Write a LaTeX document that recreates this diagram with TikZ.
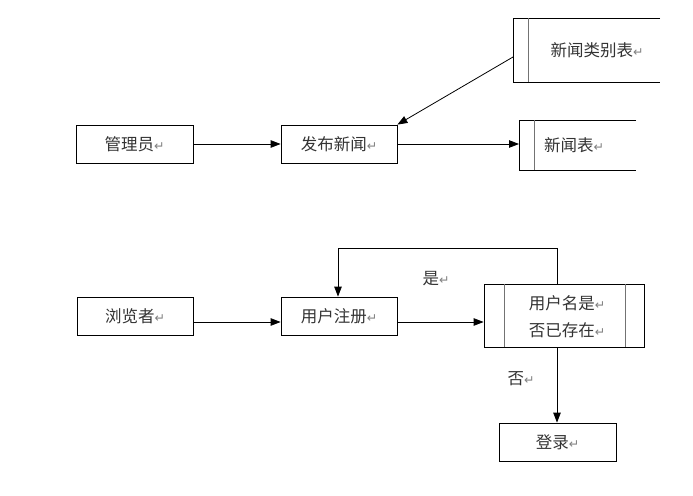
\documentclass[tikz,border=0pt]{standalone}
\usepackage{fontspec}
\setmainfont{Noto Sans CJK SC}
\newfontfamily\symfont{DejaVu Sans}
\usetikzlibrary{arrows.meta}
\newcommand{\retmark}{{\symfont\color{black!50}\fontsize{12.5}{12.5}\selectfont ↵}}
\begin{document}
\begin{tikzpicture}[x=1pt,y=-1pt,
  txt/.style={text=black!80,font=\fontsize{16.5}{27}\selectfont,inner sep=0pt,align=center},
  box/.style={txt,draw=black,line width=0.8pt},
  conn/.style={line width=0.8pt,-{Triangle[length=10pt,width=7.5pt]}},
  edge/.style={line width=0.8pt},
  inner/.style={line width=0.8pt,draw=black!55}]
\useasboundingbox (0,0) rectangle (693,495);
% top row
\node[box,minimum width=117pt,minimum height=38pt] (mgr) at (134.5,144) {管理员\retmark};
\node[box,minimum width=116pt,minimum height=38pt] (pub) at (339,144) {发布新闻\retmark};
% news category table (open right)
\draw[edge] (660,18) -- (513,18) -- (513,82) -- (660,82);
\draw[inner] (528,18) -- (528,82);
\node[txt] (cat) at (597,50) {新闻类别表\retmark};
\coordinate (catl) at (513,57);
% news table (open right)
\draw[edge] (636,120) -- (519,120) -- (519,170) -- (636,170);
\draw[inner] (534,120) -- (534,170);
\node[txt] (news) at (574,145) {新闻表\retmark};
\coordinate (newsl) at (519,144);
% bottom row
\node[box,minimum width=116pt,minimum height=38pt] (brw) at (135,316) {浏览者\retmark};
\node[box,minimum width=116pt,minimum height=38pt] (reg) at (339,316) {用户注册\retmark};
\node[box,minimum width=160pt,minimum height=63pt] (dec) at (564,315.5) {};
\draw[inner] (504,284) -- (504,347);
\draw[inner] (625,284) -- (625,347);
\node[txt] (dectxt) at (567,316.5) {用户名是\retmark\\否已存在\retmark};
\node[box,minimum width=117pt,minimum height=38pt] (login) at (557.5,442) {登录\retmark};
\node[txt] (yes) at (436,279) {是\retmark};
\node[txt] (no) at (521,379) {否\retmark};
% connectors
\draw[conn] (mgr.east) -- (pub.west);
\draw[conn] (pub.east) -- (newsl);
\draw[conn] (catl) -- (pub.north east);
\draw[conn] (brw.east |- 0,322) -- (reg.west |- 0,322);
\draw[conn] (reg.east |- 0,322) -- (dec.west |- 0,322);
\draw[conn] (dec.north -| 557,0) -- (557,248) -| (reg.north -| 338,0);
\draw[conn] (dec.south -| 557,0) -- (login.north -| 557,0);
\end{tikzpicture}
\end{document}
